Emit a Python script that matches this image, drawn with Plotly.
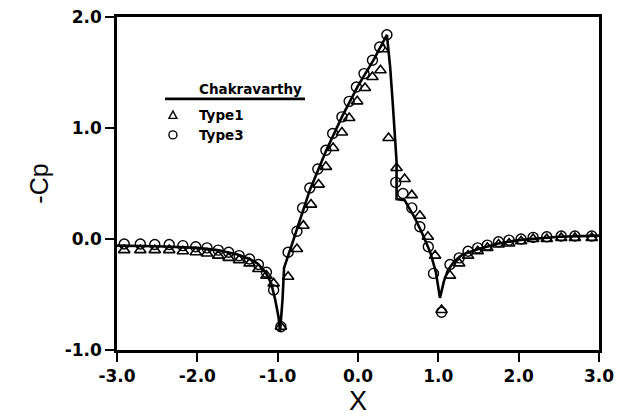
import plotly.graph_objects as go

# Chakravarthy (solid line)
line_x = [-3.0, -2.5, -2.0, -1.75, -1.5, -1.35, -1.25, -1.15, -1.08, -1.03, -0.99, -0.97,
          -0.94, -0.92, -0.80, -0.60, -0.40, -0.20, 0.0, 0.20, 0.36,
          0.40, 0.43, 0.46, 0.48, 0.48, 0.58, 0.70, 0.80, 0.90, 0.97, 1.02,
          1.07, 1.12, 1.20, 1.30, 1.50, 1.75, 2.0, 2.5, 3.0]
line_y = [-0.06, -0.065, -0.08, -0.10, -0.14, -0.18, -0.22, -0.30, -0.40, -0.55, -0.70, -0.83,
          -0.55, -0.26, 0.0, 0.44, 0.79, 1.10, 1.38, 1.62, 1.84,
          1.55, 1.25, 0.95, 0.70, 0.36, 0.35, 0.20, 0.05, -0.12, -0.30, -0.53,
          -0.38, -0.28, -0.20, -0.14, -0.09, -0.04, -0.01, 0.02, 0.03]

# Type1 (open triangles)
type1_x = [-2.91, -2.71, -2.53, -2.35, -2.18, -2.02, -1.88, -1.74, -1.61, -1.48, -1.35, -1.24, -1.14, -1.05, -0.96,
           -0.87, -0.76, -0.68, -0.585, -0.49, -0.40, -0.31, -0.20, -0.11, -0.01, 0.087, 0.18, 0.28, 0.31, 0.38,
           0.48, 0.58, 0.67, 0.77, 0.87, 0.96, 1.04,
           1.145, 1.26, 1.37, 1.49, 1.61, 1.75, 1.88, 2.03, 2.18, 2.35, 2.53, 2.70, 2.91]
type1_y = [-0.10, -0.10, -0.10, -0.10, -0.11, -0.12, -0.13, -0.15, -0.17, -0.19, -0.22, -0.27, -0.33, -0.40, -0.79,
           -0.34, -0.09, 0.12, 0.31, 0.49, 0.65, 0.82, 0.96, 1.09, 1.24, 1.36, 1.46, 1.52, 1.71, 0.91,
           0.64, 0.54, 0.395, 0.21, 0.02, -0.15, -0.64,
           -0.33, -0.22, -0.15, -0.11, -0.08, -0.05, -0.04, -0.02, 0.0, 0.0, 0.01, 0.01, 0.01]

# Type3 (open circles)
type3_x = [-2.91, -2.71, -2.53, -2.35, -2.18, -2.02, -1.88, -1.74, -1.61, -1.48, -1.35, -1.24, -1.14, -1.05, -0.96,
           -0.87, -0.76, -0.69, -0.60, -0.50, -0.40, -0.315, -0.20, -0.11, -0.02, 0.075, 0.18, 0.27, 0.36,
           0.47, 0.56, 0.67, 0.77, 0.875, 0.94, 1.04,
           1.145, 1.26, 1.37, 1.49, 1.61, 1.75, 1.88, 2.03, 2.18, 2.35, 2.53, 2.70, 2.91]
type3_y = [-0.045, -0.045, -0.05, -0.05, -0.06, -0.07, -0.08, -0.10, -0.12, -0.15, -0.18, -0.23, -0.30, -0.46, -0.79,
           -0.12, 0.07, 0.28, 0.46, 0.63, 0.80, 0.95, 1.10, 1.24, 1.37, 1.49, 1.61, 1.73, 1.84,
           0.51, 0.41, 0.28, 0.11, -0.07, -0.31, -0.66,
           -0.23, -0.17, -0.11, -0.08, -0.055, -0.025, -0.01, 0.0, 0.015, 0.02, 0.027, 0.027, 0.027]

x_ticks = [-3.0, -2.0, -1.0, 0.0, 1.0, 2.0, 3.0]
x_tick_labels = ["-3.0", "-2.0", "-1.0", "0.0", "1.0", "2.0", "3.0"]
y_ticks = [-1.0, 0.0, 1.0, 2.0]
y_tick_labels = ["-1.0", "0.0", "1.0", "2.0"]

FONT_B = "DejaVu Sans"
FONT = "Liberation Sans"

fig = go.Figure()
fig.add_trace(go.Scatter(x=line_x, y=line_y, mode="lines",
                         line=dict(color="black", width=2.6), name="Chakravarthy",
                         showlegend=False))
fig.add_trace(go.Scatter(x=type1_x, y=type1_y, mode="markers", name="Type1",
                         marker=dict(symbol="triangle-up-open", size=10, color="black",
                                     line=dict(width=1.6, color="black")),
                         showlegend=False, cliponaxis=False))
fig.add_trace(go.Scatter(x=type3_x, y=type3_y, mode="markers", name="Type3",
                         marker=dict(symbol="circle-open", size=10, color="black",
                                     line=dict(width=1.4, color="black")),
                         showlegend=False, cliponaxis=False))

# custom legend (text above line, as in the original)
lx_sym = 0.116
lx_txt = 0.166
leg_font = dict(family=FONT_B, size=13.5, color="black")
fig.add_annotation(x=lx_txt, y=0.784, xref="paper", yref="paper", text="<b>Chakravarthy</b>",
                   showarrow=False, xanchor="left", yanchor="middle", font=leg_font)
fig.add_shape(type="line", xref="paper", yref="paper", x0=0.0996, x1=0.39, y0=0.754, y1=0.754,
              line=dict(color="black", width=2.6))
fig.add_annotation(x=lx_txt, y=0.706, xref="paper", yref="paper", text="<b>Type1</b>",
                   showarrow=False, xanchor="left", yanchor="middle", font=leg_font)
fig.add_annotation(x=lx_txt, y=0.646, xref="paper", yref="paper", text="<b>Type3</b>",
                   showarrow=False, xanchor="left", yanchor="middle", font=leg_font)
fig.add_shape(type="path", xref="paper", yref="paper", xsizemode="pixel", ysizemode="pixel",
              xanchor=lx_sym, yanchor=0.706, path="M -4,-3.5 L 4,-3.5 L 0,4 Z",
              line=dict(color="black", width=1.4))
fig.add_shape(type="circle", xref="paper", yref="paper", xsizemode="pixel", ysizemode="pixel",
              xanchor=lx_sym, yanchor=0.646, x0=-4, x1=4, y0=-4, y1=4,
              line=dict(color="black", width=1.4))

axis_common = dict(showgrid=False, zeroline=False, showline=True, linecolor="black",
                   linewidth=2.5, mirror=True, ticks="outside", ticklen=9, tickwidth=1.5,
                   tickcolor="black", automargin=False,
                   tickfont=dict(family=FONT_B, size=17, color="black", weight="bold"))

fig.update_xaxes(range=[-3, 3], tickvals=x_ticks, ticktext=x_tick_labels,
                 title=dict(text="X", font=dict(family=FONT, size=27, color="#000000"), standoff=4),
                 **axis_common)
fig.update_yaxes(range=[-1, 2], tickvals=y_ticks, ticktext=y_tick_labels,
                 title=dict(text="-Cp", font=dict(family=FONT, size=25, color="#000000"), standoff=9),
                 **axis_common)

fig.update_layout(width=619, height=419, margin=dict(l=117, r=20, t=17, b=69),
                  plot_bgcolor="white", paper_bgcolor="white", showlegend=False)

fig.write_html("out.html")
